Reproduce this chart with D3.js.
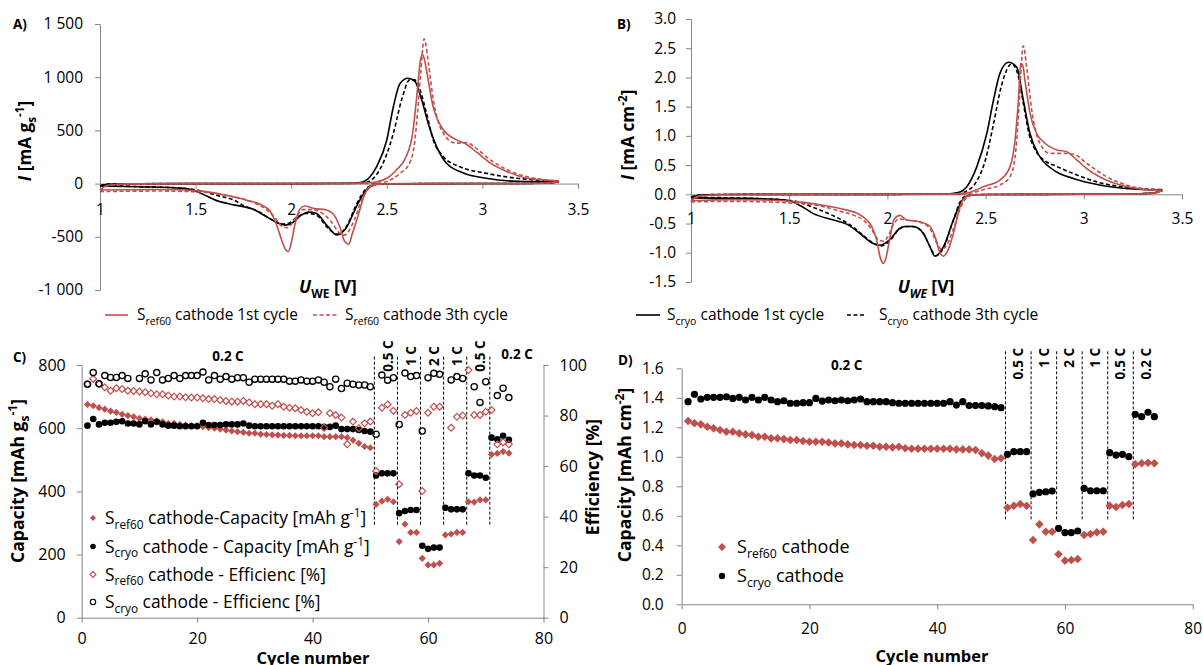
<!DOCTYPE html>
<html><head><meta charset="utf-8">
<script src="https://cdn.jsdelivr.net/npm/d3@7"></script>
<style>
body{margin:0;background:#fff;}
svg{display:block;font-family:"Open Sans",sans-serif;}
</style></head><body>
<svg id="c" width="1203" height="665"></svg>
<script>
// ---------------- DATA ----------------
// Cyclic voltammetry curves, [U_WE (V), I] in scan order (cathodic 3.4 -> 1.0, then anodic 1.0 -> 3.4)
const cvA_ref60_1st = [[3.40,22],[3.35,6],[3.2,1],[2.8,0],[2.5,-2],[2.44,-8],[2.41,-30],[2.38,-120],[2.35,-300],[2.32,-470],[2.30,-570],[2.28,-545],[2.255,-410],[2.22,-285],[2.18,-245],[2.12,-235],[2.07,-210],[2.045,-240],[2.02,-380],[2.0,-560],[1.985,-640],[1.97,-620],[1.95,-530],[1.92,-370],[1.89,-260],[1.85,-205],[1.77,-158],[1.66,-110],[1.52,-68],[1.3,-56],[1.0,-60],
  [1.04,-15],[1.15,-3],[1.5,0],[2.0,0],[2.3,2],[2.42,10],[2.5,50],[2.55,128],[2.60,250],[2.635,470],[2.66,880],[2.675,1150],[2.685,1215],[2.695,1180],[2.71,1040],[2.74,740],[2.79,520],[2.86,415],[2.92,365],[2.97,295],[3.04,195],[3.13,112],[3.23,52],[3.40,22]];
const cvA_ref60_3rd = [[3.40,26],[3.35,8],[3.2,1],[2.8,0],[2.5,-2],[2.45,-10],[2.41,-40],[2.37,-150],[2.33,-340],[2.30,-450],[2.275,-485],[2.25,-460],[2.21,-360],[2.16,-275],[2.11,-245],[2.06,-245],[2.03,-300],[2.0,-385],[1.98,-415],[1.95,-400],[1.92,-330],[1.87,-245],[1.80,-175],[1.68,-118],[1.52,-78],[1.3,-70],[1.0,-75],
  [1.04,-20],[1.15,-4],[1.5,0],[2.0,0],[2.4,2],[2.48,10],[2.53,45],[2.57,97],[2.62,195],[2.645,380],[2.66,650],[2.677,1030],[2.695,1360],[2.705,1300],[2.715,1170],[2.743,790],[2.795,475],[2.86,380],[2.92,385],[2.965,335],[3.04,225],[3.13,130],[3.23,66],[3.40,26]];
const cvA_cryo_1st = [[3.40,18],[3.35,5],[3.2,1],[2.8,0],[2.5,-2],[2.45,-6],[2.40,-45],[2.34,-220],[2.29,-410],[2.24,-483],[2.19,-400],[2.13,-278],[2.09,-268],[2.05,-300],[2.0,-375],[1.97,-390],[1.93,-370],[1.87,-310],[1.80,-240],[1.70,-200],[1.61,-160],[1.52,-85],[1.44,-45],[1.2,-30],[1.0,-22],
  [1.04,-6],[1.2,-1],[1.5,0],[2.0,0],[2.3,3],[2.36,10],[2.41,60],[2.447,160],[2.50,410],[2.534,720],[2.569,940],[2.61,990],[2.647,960],[2.682,790],[2.716,570],[2.76,350],[2.81,195],[2.90,100],[3.02,50],[3.18,22],[3.40,18]];
const cvA_cryo_3rd = [[3.40,25],[3.35,7],[3.2,1],[2.8,0],[2.5,-2],[2.45,-5],[2.40,-35],[2.34,-200],[2.29,-400],[2.24,-475],[2.19,-415],[2.13,-295],[2.08,-280],[2.03,-315],[1.99,-370],[1.95,-380],[1.90,-340],[1.83,-265],[1.75,-205],[1.70,-155],[1.61,-110],[1.52,-65],[1.40,-40],[1.2,-28],[1.0,-20],
  [1.04,-5],[1.2,-1],[1.5,0],[2.0,0],[2.35,3],[2.40,15],[2.44,70],[2.48,190],[2.534,470],[2.578,790],[2.62,975],[2.645,975],[2.674,880],[2.708,660],[2.743,410],[2.795,255],[2.88,160],[3.02,97],[3.18,50],[3.40,25]];

const cvB_ref60_1st = [[3.40,0.06],[3.35,0.015],[3.2,0.003],[2.8,0],[2.5,-0.003],[2.43,-0.01],[2.404,-0.03],[2.37,-0.21],[2.336,-0.67],[2.305,-0.98],[2.285,-1.06],[2.265,-0.98],[2.25,-0.8],[2.217,-0.55],[2.166,-0.47],[2.098,-0.44],[2.064,-0.36],[2.035,-0.42],[2.01,-0.8],[1.99,-1.12],[1.98,-1.18],[1.965,-1.1],[1.945,-0.78],[1.92,-0.55],[1.895,-0.44],[1.85,-0.33],[1.793,-0.27],[1.657,-0.18],[1.52,-0.12],[1.215,-0.09],[1.0,-0.11],
  [1.04,-0.03],[1.15,-0.006],[1.5,0],[2.0,0],[2.3,0.004],[2.40,0.02],[2.488,0.13],[2.573,0.245],[2.624,0.47],[2.65,0.93],[2.667,1.61],[2.679,2.24],[2.69,2.2],[2.70,1.96],[2.726,1.39],[2.76,1.04],[2.794,0.9],[2.862,0.76],[2.913,0.73],[2.964,0.59],[3.015,0.44],[3.08,0.3],[3.22,0.13],[3.40,0.06]];
const cvB_ref60_3rd = [[3.40,0.07],[3.35,0.02],[3.2,0.004],[2.8,0],[2.5,-0.003],[2.44,-0.01],[2.41,-0.04],[2.37,-0.25],[2.33,-0.65],[2.30,-0.88],[2.275,-0.94],[2.25,-0.82],[2.215,-0.58],[2.16,-0.47],[2.10,-0.44],[2.06,-0.42],[2.03,-0.52],[2.0,-0.74],[1.98,-0.8],[1.955,-0.78],[1.92,-0.6],[1.88,-0.45],[1.83,-0.36],[1.76,-0.29],[1.66,-0.2],[1.52,-0.15],[1.2,-0.12],[1.0,-0.13],
  [1.04,-0.035],[1.15,-0.007],[1.5,0],[2.0,0],[2.35,0.004],[2.42,0.02],[2.488,0.08],[2.573,0.16],[2.624,0.3],[2.65,0.64],[2.667,1.33],[2.679,2.07],[2.692,2.54],[2.709,2.18],[2.735,1.44],[2.777,0.87],[2.828,0.7],[2.896,0.7],[2.947,0.69],[3.015,0.53],[3.117,0.3],[3.25,0.13],[3.40,0.07]];
const cvB_cryo_1st = [[3.40,0.07],[3.35,0.02],[3.2,0.004],[2.8,0],[2.5,-0.003],[2.43,-0.01],[2.404,-0.03],[2.378,-0.12],[2.336,-0.44],[2.285,-0.9],[2.242,-1.06],[2.217,-0.9],[2.183,-0.67],[2.132,-0.55],[2.09,-0.55],[2.064,-0.58],[2.01,-0.78],[1.962,-0.87],[1.928,-0.84],[1.86,-0.67],[1.793,-0.51],[1.725,-0.44],[1.623,-0.33],[1.555,-0.19],[1.49,-0.1],[1.3,-0.07],[1.0,-0.06],
  [1.04,-0.015],[1.15,-0.003],[1.5,0],[2.0,0],[2.3,0.005],[2.36,0.03],[2.404,0.13],[2.455,0.47],[2.506,1.04],[2.54,1.61],[2.573,2.07],[2.616,2.26],[2.658,2.18],[2.692,1.61],[2.726,1.04],[2.777,0.64],[2.845,0.42],[2.947,0.27],[3.08,0.16],[3.25,0.09],[3.40,0.07]];
const cvB_cryo_3rd = [[3.40,0.08],[3.35,0.02],[3.2,0.004],[2.8,0],[2.5,-0.003],[2.43,-0.01],[2.40,-0.03],[2.375,-0.1],[2.335,-0.45],[2.285,-0.92],[2.245,-1.05],[2.215,-0.88],[2.18,-0.65],[2.13,-0.55],[2.09,-0.55],[2.06,-0.6],[2.01,-0.8],[1.97,-0.88],[1.93,-0.84],[1.87,-0.68],[1.8,-0.5],[1.72,-0.36],[1.62,-0.22],[1.52,-0.11],[1.3,-0.07],[1.0,-0.05],
  [1.04,-0.012],[1.15,-0.003],[1.5,0],[2.0,0],[2.35,0.005],[2.40,0.05],[2.45,0.2],[2.50,0.6],[2.54,1.2],[2.58,1.85],[2.633,2.23],[2.66,2.1],[2.69,1.6],[2.72,1.05],[2.76,0.72],[2.80,0.58],[2.86,0.48],[2.95,0.35],[3.08,0.2],[3.25,0.11],[3.40,0.08]];

// Cycling data (cycles 1..74)
const cycleNumbers = d3.range(1, 75);
const capC_ref60 = [675,671,665,660,654,650,644,640,636,631, 629,626,623,620,615,615,612,610,608,608,
  605,602,600,597,594,591,589,587,584,584, 581,580,579,578,577,577,576,576,576,576,
  576,573,573,573,573,570,562,552,542,538, 359,369,375,367, 241,296,270,270, 188,167,167,172,
  262,265,270,270, 367,366,373,373, 517,520,526,521];
const capC_cryo = [608,629,612,617,617,620,622,615,615,612, 622,612,620,612,608,608,606,606,606,606,
  617,610,610,610,612,612,612,615,608,606, 606,606,606,606,606,606,606,606,606,606,
  606,604,604,608,597,597,597,594,591,589, 450,457,457,457, 331,338,341,341, 228,218,222,222,
  348,343,343,343, 457,450,450,443, 570,565,576,563];
const effC_ref60 = [92.5,94.5,92.5,91.2,89.8,90.8,90.5,89.8,89.7,89.5, 89.2,88.8,88.4,88.4,87.9,87.5,87.5,87.2,87.1,87.1,
  86.8,86.5,86.5,86.1,85.8,85.5,85.5,85.8,85.2,84.5, 84.5,84.5,83.9,84.5,83.5,83.1,82.9,82.2,81.5,80.9,
  81.3,75.2,80.9,80.2,79.2,68.6,77.6,75.0,76.9,77.6, 58.0,83.1,84.4,81.9, 52.8,80.2,81.1,81.8, 50.1,81.1,83.5,83.5,
  null,75.2,79.5,80.0, 98.0,80.2,80.2,81.5, 82.2,68.6,69.4,68.6];
const effC_cryo = [92.4,97.0,92.6,95.8,95.1,95.1,95.8,94.7,null,94.7, 96.5,94.1,97.0,94.1,94.7,95.8,94.7,95.8,95.8,95.8,
  97.2,94.1,95.8,94.4,95.4,94.4,95.0,95.0,93.2,94.4, 94.4,94.4,94.4,94.4,94.4,93.6,93.6,94.1,93.6,93.6,
  94.1,93.2,91.4,94.4,90.7,92.8,92.4,92.1,92.1,91.4, 72.6,96.0,94.0,95.0, 76.5,96.8,95.4,95.8, 73.9,95.0,96.7,96.3,
  null,94.1,95.4,94.7, null,91.4,85.2,93.4, null,87.9,90.8,87.1];
const capD_ref60 = [1.243,1.227,1.22,1.204,1.193,1.182,1.17,1.17,1.159,1.152, 1.148,1.136,1.136,1.125,1.125,1.12,1.114,1.114,1.107,1.102,
  1.102,1.102,1.097,1.091,1.091,1.084,1.08,1.08,1.075,1.075, 1.068,1.068,1.064,1.068,1.058,1.055,1.055,1.055,1.055,1.055,
  1.055,1.055,1.05,1.05,1.05,1.046,1.024,1.008,0.985,0.99, 0.655,0.668,0.68,0.668, 0.436,0.542,0.492,0.492, 0.339,0.296,0.30,0.307,
  0.47,0.477,0.488,0.492, 0.668,0.66,0.673,0.68, 0.949,0.956,0.96,0.956];
const capD_cryo = [1.374,1.424,1.392,1.403,1.403,1.403,1.407,1.396,1.403,1.385, 1.403,1.385,1.403,1.385,1.374,1.38,1.363,1.363,1.367,1.367,
  1.396,1.378,1.385,1.38,1.385,1.38,1.385,1.392,1.374,1.374, 1.374,1.374,1.367,1.363,1.363,1.363,1.363,1.363,1.363,1.363,
  1.363,1.374,1.351,1.374,1.347,1.347,1.347,1.345,1.34,1.333, 1.017,1.035,1.035,1.035, 0.748,0.759,0.763,0.768, 0.515,0.486,0.486,0.497,
  0.786,0.77,0.77,0.77, 1.028,1.012,1.017,1.001, 1.288,1.272,1.302,1.272];

// C-rate steps
const rateLabels = ["0.2 C","0.5 C","1 C","2 C","1 C","0.5 C","0.2 C"];
const rateBounds = [0, 50.7, 54.7, 58.7, 62.7, 66.7, 70.7, 74.7];

// Tick values / labels
const voltTicks = [1,1.5,2,2.5,3,3.5];
const voltTickLabels = ["1","1.5","2","2.5","3","3.5"];
const iATicks = [-1000,-500,0,500,1000,1500];
const iATickLabels = ["-1 000","-500","0","500","1 000","1 500"];
const iBTicks = [-1.5,-1,-0.5,0,0.5,1,1.5,2,2.5,3];
const iBTickLabels = ["-1.5","-1.0","-0.5","0.0","0.5","1.0","1.5","2.0","2.5","3.0"];
const cycleTicks = [0,20,40,60,80];
const capCTicks = [0,200,400,600,800];
const effTicks = [0,20,40,60,80,100];
const capDTicks = [0,0.2,0.4,0.6,0.8,1.0,1.2,1.4,1.6];
const capDTickLabels = ["0.0","0.2","0.4","0.6","0.8","1.0","1.2","1.4","1.6"];

// ---------------- DRAWING ----------------
const RED = "#C0504D", BLACK = "#000", AXIS = "#868686";
const FONT = '"Open Sans", sans-serif';
const svg = d3.select('#c');

function styleAxis(g, fs) {
  g.attr('font-family', null).attr('font-size', null);
  g.select('.domain').attr('stroke', AXIS);
  g.selectAll('.tick line').attr('stroke', AXIS);
  g.selectAll('.tick text').attr('fill', '#000').attr('font-size', fs).attr('font-family', FONT);
}
function rich(textSel, parts, fs) {
  let cur = 0;
  parts.forEach(p => {
    const target = p.sub ? 0.28 : p.sup ? -0.38 : 0;
    const ts = textSel.append('tspan').text(p.t);
    if (target - cur !== 0) ts.attr('dy', (target - cur) * fs);
    if (p.sub || p.sup) ts.attr('font-size', fs * 0.68);
    if (p.italic) ts.attr('font-style', 'italic');
    cur = target;
  });
  return textSel;
}
function label(x, y, parts, fs, opts = {}) {
  const t = svg.append('text').attr('font-family', FONT).attr('font-size', fs)
    .attr('font-weight', opts.bold ? 'bold' : null)
    .attr('text-anchor', opts.anchor || 'start');
  if (opts.rotate) t.attr('transform', `translate(${x},${y}) rotate(-90)`).attr('dy', '0.35em');
  else t.attr('x', x).attr('y', y).attr('dy', '0.35em');
  rich(t, parts, fs);
  return t;
}
function drawCV(g, data, x, y, color, dashed) {
  let iMin = 0;
  data.forEach((d, i) => { if (d[0] < data[iMin][0]) iMin = i; });
  const halves = [data.slice(0, iMin + 1), data.slice(iMin)];
  const line = d3.line().x(d => x(d[0])).y(d => y(d[1])).curve(d3.curveMonotoneX);
  halves.forEach(h => {
    const s = h.slice().sort((a, b) => a[0] - b[0]);
    g.append('path').attr('d', line(s)).attr('fill', 'none').attr('stroke', color)
      .attr('stroke-width', 1.6).attr('stroke-dasharray', dashed ? '4,2.5' : null);
  });
}
const diamond = h => `M0,${-h}L${h},0L0,${h}L${-h},0Z`;

// ---- Panel A ----
const xA = d3.scaleLinear().domain([1, 3.5]).range([100, 578]);
const yA = d3.scaleLinear().domain([-1000, 1500]).range([290, 24]);
svg.append('g').attr('transform', `translate(${xA(1)},0)`)
  .call(d3.axisLeft(yA).tickValues(iATicks).tickFormat((d, i) => iATickLabels[i]).tickSize(5).tickPadding(12).tickSizeOuter(0))
  .call(g => styleAxis(g, 15.5));
svg.append('g').attr('transform', `translate(0,${yA(0)})`)
  .call(d3.axisBottom(xA).tickValues(voltTicks).tickFormat((d, i) => voltTickLabels[i]).tickSize(5).tickPadding(15.5).tickSizeOuter(0))
  .call(g => styleAxis(g, 15.5));
const gA = svg.append('g');
drawCV(gA, cvA_cryo_1st, xA, yA, BLACK, false);
drawCV(gA, cvA_cryo_3rd, xA, yA, BLACK, true);
drawCV(gA, cvA_ref60_1st, xA, yA, RED, false);
drawCV(gA, cvA_ref60_3rd, xA, yA, RED, true);
label(13, 24, [{t: 'A)'}], 13.5, {bold: true});
label(25, 141, [{t: 'I', italic: true}, {t: ' [mA g'}, {t: 's', sub: true}, {t: '-1', sup: true}, {t: ']'}], 17.2, {bold: true, rotate: true, anchor: 'middle'});
label(328, 287, [{t: 'U', italic: true}, {t: 'WE', sub: true}, {t: ' [V]'}], 17.5, {bold: true, anchor: 'middle'});
// legend A
svg.append('line').attr('x1', 105).attr('x2', 128).attr('y1', 315).attr('y2', 315).attr('stroke', RED).attr('stroke-width', 1.6);
label(137, 315, [{t: 'S'}, {t: 'ref60', sub: true}, {t: ' cathode 1st cycle'}], 15.4);
svg.append('line').attr('x1', 313).attr('x2', 338).attr('y1', 315).attr('y2', 315).attr('stroke', RED).attr('stroke-width', 1.6).attr('stroke-dasharray', '4,2.5');
label(345, 315, [{t: 'S'}, {t: 'ref60', sub: true}, {t: ' cathode 3th cycle'}], 15.4);

// ---- Panel B ----
const xB = d3.scaleLinear().domain([1, 3.5]).range([691, 1182]);
const yB = d3.scaleLinear().domain([-1.5, 3.0]).range([282, 19]);
svg.append('g').attr('transform', `translate(${xB(1)},0)`)
  .call(d3.axisLeft(yB).tickValues(iBTicks).tickFormat((d, i) => iBTickLabels[i]).tickSize(5).tickPadding(10).tickSizeOuter(0))
  .call(g => styleAxis(g, 15.5));
svg.append('g').attr('transform', `translate(0,${yB(0)})`)
  .call(d3.axisBottom(xB).tickValues(voltTicks).tickFormat((d, i) => voltTickLabels[i]).tickSize(5).tickPadding(13.5).tickSizeOuter(0))
  .call(g => styleAxis(g, 15.5));
const gB = svg.append('g');
drawCV(gB, cvB_cryo_1st, xB, yB, BLACK, false);
drawCV(gB, cvB_cryo_3rd, xB, yB, BLACK, true);
drawCV(gB, cvB_ref60_1st, xB, yB, RED, false);
drawCV(gB, cvB_ref60_3rd, xB, yB, RED, true);
label(617, 24, [{t: 'B)'}], 13.5, {bold: true});
label(628, 135, [{t: 'I', italic: true}, {t: ' [mA cm'}, {t: '-2', sup: true}, {t: ']'}], 17.2, {bold: true, rotate: true, anchor: 'middle'});
label(926, 287, [{t: 'U', italic: true}, {t: 'WE', sub: true, italic: true}, {t: ' [V]'}], 17.5, {bold: true, anchor: 'middle'});
svg.append('line').attr('x1', 636).attr('x2', 660).attr('y1', 315).attr('y2', 315).attr('stroke', BLACK).attr('stroke-width', 1.6);
label(667, 315, [{t: 'S'}, {t: 'cryo', sub: true}, {t: ' cathode 1st cycle'}], 15.5);
svg.append('line').attr('x1', 847).attr('x2', 865).attr('y1', 315).attr('y2', 315).attr('stroke', BLACK).attr('stroke-width', 1.6).attr('stroke-dasharray', '4,2.5');
label(879, 315, [{t: 'S'}, {t: 'cryo', sub: true}, {t: ' cathode 3th cycle'}], 15.5);

// ---- Rate dividers helper ----
function drawRates(x, yTop, yBot) {
  rateBounds.slice(1, -1).forEach(b => {
    svg.append('line').attr('x1', x(b)).attr('x2', x(b)).attr('y1', yTop).attr('y2', yBot)
      .attr('stroke', '#000').attr('stroke-width', 1).attr('stroke-dasharray', '3,2');
  });
}

// ---- Panel C ----
const xC = d3.scaleLinear().domain([0, 80]).range([81.7, 543.5]);
const yC = d3.scaleLinear().domain([0, 800]).range([617.7, 365]);
const yCe = d3.scaleLinear().domain([0, 100]).range([617.7, 365]);
svg.append('g').attr('transform', `translate(${xC(0)},0)`)
  .call(d3.axisLeft(yC).tickValues(capCTicks).tickSize(5).tickPadding(11).tickSizeOuter(0))
  .call(g => styleAxis(g, 16));
svg.append('g').attr('transform', `translate(${xC(80)},0)`)
  .call(d3.axisRight(yCe).tickValues(effTicks).tickSize(5).tickPadding(11).tickSizeOuter(0))
  .call(g => styleAxis(g, 16));
svg.append('g').attr('transform', `translate(0,${yC(0)})`)
  .call(d3.axisBottom(xC).tickValues(cycleTicks).tickSize(5).tickPadding(9.5).tickSizeOuter(0))
  .call(g => styleAxis(g, 16));
drawRates(xC, yCe(103.3), yCe(36));
const gC = svg.append('g');
const rowsC = (arr) => cycleNumbers.map((c, i) => ({c, v: arr[i]})).filter(d => d.v != null);
gC.selectAll('.rd').data(rowsC(capC_ref60)).join('path').attr('d', diamond(3.6))
  .attr('transform', d => `translate(${xC(d.c)},${yC(d.v)})`).attr('fill', RED);
gC.selectAll('.bc').data(rowsC(capC_cryo)).join('circle').attr('r', 3.3)
  .attr('cx', d => xC(d.c)).attr('cy', d => yC(d.v)).attr('fill', BLACK);
gC.selectAll('.od').data(rowsC(effC_ref60)).join('path').attr('d', diamond(3.4))
  .attr('transform', d => `translate(${xC(d.c)},${yCe(d.v)})`).attr('fill', 'none').attr('stroke', RED).attr('stroke-width', 1.2);
gC.selectAll('.oc').data(rowsC(effC_cryo)).join('circle').attr('r', 3.1)
  .attr('cx', d => xC(d.c)).attr('cy', d => yCe(d.v)).attr('fill', 'none').attr('stroke', BLACK).attr('stroke-width', 1.3);
// rate labels C
label(xC((rateBounds[0] + rateBounds[1]) / 2), 356, [{t: rateLabels[0]}], 13.5, {bold: true, anchor: 'middle'});
for (let i = 1; i < rateLabels.length - 1; i++) {
  label(xC((rateBounds[i] + rateBounds[i + 1]) / 2) + 2, 356, [{t: rateLabels[i]}], 13.5, {bold: true, anchor: 'middle', rotate: true});
}
label(xC(72.7), 354, [{t: rateLabels[6]}], 13.5, {bold: true});
label(13, 357, [{t: 'C)'}], 13.5, {bold: true});
label(18, 481, [{t: 'Capacity [mAh g'}, {t: 's', sub: true}, {t: '-1', sup: true}, {t: ']'}], 17.6, {bold: true, rotate: true, anchor: 'middle'});
label(593, 477, [{t: 'Efficiency [%]'}], 17.6, {bold: true, rotate: true, anchor: 'middle'});
label(313, 658.5, [{t: 'Cycle number'}], 16.5, {bold: true, anchor: 'middle'});
// legend C
const legC = [
  {y: 518, parts: [{t: 'S'}, {t: 'ref60', sub: true}, {t: ' cathode-Capacity [mAh g'}, {t: '-1', sup: true}, {t: ']'}], mk: 'rd'},
  {y: 546.5, parts: [{t: 'S'}, {t: 'cryo', sub: true}, {t: ' cathode - Capacity [mAh g'}, {t: '-1', sup: true}, {t: ']'}], mk: 'bc'},
  {y: 574.5, parts: [{t: 'S'}, {t: 'ref60', sub: true}, {t: ' cathode - Efficienc [%]'}], mk: 'od'},
  {y: 602, parts: [{t: 'S'}, {t: 'cryo', sub: true}, {t: ' cathode - Efficienc [%]'}], mk: 'oc'}
];
legC.forEach(r => {
  if (r.mk === 'rd') svg.append('path').attr('d', diamond(3)).attr('transform', `translate(93,${r.y})`).attr('fill', RED);
  if (r.mk === 'bc') svg.append('circle').attr('cx', 93).attr('cy', r.y).attr('r', 2.8).attr('fill', BLACK);
  if (r.mk === 'od') svg.append('path').attr('d', diamond(3)).attr('transform', `translate(93,${r.y})`).attr('fill', 'none').attr('stroke', RED).attr('stroke-width', 1.1);
  if (r.mk === 'oc') svg.append('circle').attr('cx', 93).attr('cy', r.y).attr('r', 2.7).attr('fill', 'none').attr('stroke', BLACK).attr('stroke-width', 1.1);
  label(105, r.y, r.parts, 17.4);
});

// ---- Panel D ----
const xD = d3.scaleLinear().domain([0, 80]).range([681.7, 1192.7]);
const yD = d3.scaleLinear().domain([0, 1.6]).range([604.3, 368.3]);
svg.append('g').attr('transform', `translate(${xD(0)},0)`)
  .call(d3.axisLeft(yD).tickValues(capDTicks).tickFormat((d, i) => capDTickLabels[i]).tickSize(5).tickPadding(13).tickSizeOuter(0))
  .call(g => styleAxis(g, 15.5));
svg.append('g').attr('transform', `translate(0,${yD(0)})`)
  .call(d3.axisBottom(xD).tickValues(cycleTicks).tickSize(5).tickPadding(13.5).tickSizeOuter(0))
  .call(g => styleAxis(g, 15.5));
drawRates(xD, yD(1.715), yD(0.57));
const gD = svg.append('g');
gD.selectAll('.rd').data(rowsC(capD_ref60)).join('path').attr('d', diamond(4.3))
  .attr('transform', d => `translate(${xD(d.c)},${yD(d.v)})`).attr('fill', RED);
gD.selectAll('.bc').data(rowsC(capD_cryo)).join('circle').attr('r', 3.6)
  .attr('cx', d => xD(d.c)).attr('cy', d => yD(d.v)).attr('fill', BLACK);
label(xD((rateBounds[0] + rateBounds[1]) / 2) + 3, 365, [{t: rateLabels[0]}], 13.5, {bold: true, anchor: 'middle'});
for (let i = 1; i < rateLabels.length; i++) {
  label(xD((rateBounds[i] + rateBounds[i + 1]) / 2), 348, [{t: rateLabels[i]}], 13.5, {bold: true, anchor: 'end', rotate: true});
}
label(618, 360, [{t: 'D)'}], 13.5, {bold: true});
label(625, 475, [{t: 'Capacity [mAh cm'}, {t: '-2', sup: true}, {t: ']'}], 17.6, {bold: true, rotate: true, anchor: 'middle'});
label(932, 656, [{t: 'Cycle number'}], 16.5, {bold: true, anchor: 'middle'});
svg.append('path').attr('d', diamond(4)).attr('transform', 'translate(722,547)').attr('fill', RED);
label(737, 547, [{t: 'S'}, {t: 'ref60', sub: true}, {t: ' cathode'}], 18);
svg.append('circle').attr('cx', 722).attr('cy', 576).attr('r', 3.2).attr('fill', BLACK);
label(737, 576, [{t: 'S'}, {t: 'cryo', sub: true}, {t: ' cathode'}], 18);
</script>
</body></html>
